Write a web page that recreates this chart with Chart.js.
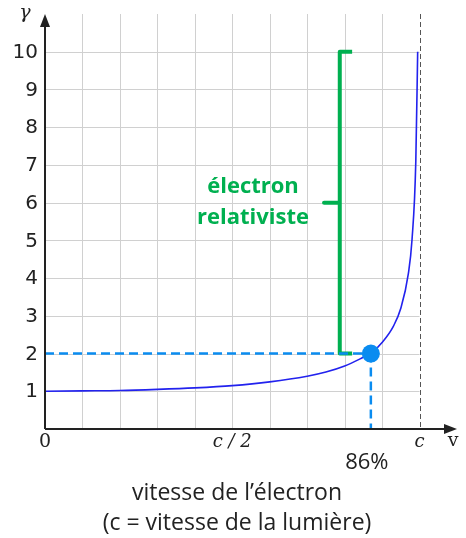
<html>
<head>
    <meta charset="utf-8">
    <title>Facteur de Lorentz</title>
    <script src="https://cdn.jsdelivr.net/npm/chart.js@4.4.0/dist/chart.umd.min.js"></script>
    <style>
        body { margin: 0; background: #fff; }
        #wrap { width: 466px; height: 538px; position: relative; }
    </style>
</head>
<body>
    <div id="wrap"><canvas id="myChart" width="466" height="538"></canvas></div>
    <script>
        // vitesse en fraction de c, gamma
        const vitesse = [0, 0.1, 0.2, 0.3, 0.4, 0.5, 0.6, 0.7, 0.75, 0.8, 0.85, 0.87, 0.9, 0.93, 0.95, 0.97, 0.98, 0.99, 0.995];
        const gamma = [1, 1.01, 1.02, 1.05, 1.09, 1.15, 1.25, 1.4, 1.51, 1.67, 1.9, 2, 2.29, 2.72, 3.2, 4.11, 5.03, 7.09, 10];
        const pointV = 0.87;
        const pointGamma = 2;
        const yTicks = [1, 2, 3, 4, 5, 6, 7, 8, 9, 10];
        const xTickVals = [0, 0.5, 1];
        const xTickLabels = ['0', 'c / 2', 'c'];
        const xGrid = [0.1, 0.2, 0.3, 0.4, 0.5, 0.6, 0.7, 0.8, 0.9];
        // accolade verte: de gamma=2 a gamma=10, pointe a gamma=6
        const bracketV = [0.82, 0.787, 0.787, 0.745, 0.787, 0.787, 0.82];
        const bracketG = [10, 10, 6, 6, 6, 2, 2];

        const BLUE = '#2222ee';
        const LIGHTBLUE = '#0a8cf0';
        const GREEN = '#00b050';

        const curve = vitesse.map((v, i) => ({ x: v, y: gamma[i] }));
        const bracket = bracketV.map((v, i) => ({ x: v, y: bracketG[i] }));

        const axesPlugin = {
            id: 'axesPlugin',
            beforeDatasetsDraw(chart) {
                const c = chart.ctx;
                const xs = chart.scales.x, ys = chart.scales.y;
                const x0 = xs.getPixelForValue(0), xc = xs.getPixelForValue(1);
                const y0 = ys.getPixelForValue(0), yTop = ys.getPixelForValue(11);
                c.save();
                // grille
                c.strokeStyle = '#d0d0d0';
                c.lineWidth = 1;
                for (const v of xGrid) {
                    const px = Math.round(xs.getPixelForValue(v)) + 0.5;
                    c.beginPath(); c.moveTo(px, yTop); c.lineTo(px, y0); c.stroke();
                }
                for (const g of yTicks) {
                    const py = Math.round(ys.getPixelForValue(g)) + 0.5;
                    c.beginPath(); c.moveTo(x0, py); c.lineTo(xc, py); c.stroke();
                }
                // asymptote v = c
                c.strokeStyle = '#555';
                c.setLineDash([5, 3]);
                c.beginPath(); c.moveTo(Math.round(xc) + 0.5, yTop); c.lineTo(Math.round(xc) + 0.5, y0); c.stroke();
                c.setLineDash([]);
                c.restore();
            },
            afterDatasetsDraw(chart) {
                const c = chart.ctx;
                const xs = chart.scales.x, ys = chart.scales.y;
                const x0 = xs.getPixelForValue(0);
                const y0 = ys.getPixelForValue(0);
                const xEnd = xs.right, yEnd = ys.top;
                c.save();
                // axes
                c.strokeStyle = '#222';
                c.fillStyle = '#222';
                c.lineWidth = 2;
                c.beginPath(); c.moveTo(x0, y0); c.lineTo(xEnd - 8, y0); c.stroke();
                c.beginPath(); c.moveTo(x0, y0); c.lineTo(x0, yEnd + 8); c.stroke();
                c.beginPath(); c.moveTo(xEnd, y0); c.lineTo(xEnd - 13, y0 - 5); c.lineTo(xEnd - 13, y0 + 5); c.closePath(); c.fill();
                c.beginPath(); c.moveTo(x0, yEnd); c.lineTo(x0 - 5, yEnd + 13); c.lineTo(x0 + 5, yEnd + 13); c.closePath(); c.fill();

                // graduations
                c.fillStyle = '#222';
                c.font = '20px "DejaVu Sans"';
                c.textAlign = 'right';
                c.textBaseline = 'middle';
                for (const g of yTicks) {
                    c.fillText(String(g), x0 - 7, ys.getPixelForValue(g) + 1);
                }
                c.textAlign = 'center';
                c.textBaseline = 'top';
                xTickVals.forEach((v, i) => {
                    c.font = i === 0 ? '19px "DejaVu Serif"' : 'italic 18px "DejaVu Serif"';
                    c.fillText(xTickLabels[i], xs.getPixelForValue(v), y0 + 4);
                });
                c.font = '19px "DejaVu Serif"';
                c.fillText('v', xEnd - 4, y0 + 3);
                c.font = 'italic 19px "DejaVu Serif"';
                c.textBaseline = 'middle';
                c.fillText('γ', 25, 13);

                // 86%
                c.font = '22px "Open Sans"';
                c.textBaseline = 'middle';
                c.fillText('86%', xs.getPixelForValue(pointV) - 4, y0 + 34);

                // titre de l'axe
                c.font = '23px "Open Sans"';
                c.fillText('vitesse de l\u2019électron', 237, y0 + 64);
                c.fillText('(c = vitesse de la lumière)', 237, y0 + 94);

                // texte vert
                c.fillStyle = GREEN;
                c.font = 'bold 22px "Open Sans"';
                c.fillText('électron', 253, ys.getPixelForValue(6.42));
                c.fillText('relativiste', 253, ys.getPixelForValue(5.6));
                c.restore();
            }
        };

        const config = {
            type: 'line',
            data: {
                datasets: [
                    {
                        data: [{ x: pointV, y: pointGamma }],
                        showLine: false,
                        pointRadius: 9,
                        pointBackgroundColor: LIGHTBLUE,
                        pointBorderWidth: 0
                    },
                    {
                        data: curve,
                        borderColor: BLUE,
                        borderWidth: 1.6,
                        pointRadius: 0,
                        cubicInterpolationMode: 'monotone',
                        fill: false
                    },
                    {
                        data: [{ x: 0, y: pointGamma }, { x: pointV, y: pointGamma }],
                        borderColor: LIGHTBLUE,
                        borderWidth: 2.5,
                        borderDash: [9, 5],
                        pointRadius: 0
                    },
                    {
                        data: [{ x: pointV, y: pointGamma }, { x: pointV, y: 0 }],
                        borderColor: LIGHTBLUE,
                        borderWidth: 2.5,
                        borderDash: [9, 5],
                        pointRadius: 0
                    },
                    {
                        data: bracket,
                        borderColor: GREEN,
                        borderWidth: 4,
                        borderJoinStyle: 'round',
                        borderCapStyle: 'butt',
                        pointRadius: 0,
                        tension: 0
                    }
                ]
            },
            options: {
                responsive: false,
                animation: false,
                clip: false,
                layout: { padding: { left: 45, right: 8, top: 14, bottom: 109 } },
                plugins: { legend: { display: false }, tooltip: { enabled: false } },
                scales: {
                    x: { type: 'linear', min: 0, max: 1.1, display: false },
                    y: { type: 'linear', min: 0, max: 11, display: false }
                }
            },
            plugins: [axesPlugin]
        };
        new Chart(document.getElementById('myChart'), config);
    </script>
</body>
</html>
